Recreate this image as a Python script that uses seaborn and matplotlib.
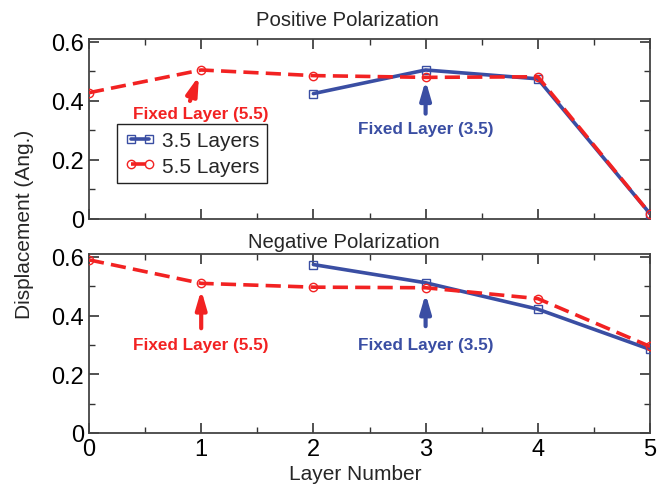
import matplotlib
matplotlib.use("Agg")
import matplotlib.pyplot as plt
import seaborn as sns
import pandas as pd
from matplotlib.ticker import MultipleLocator

sns.set_theme(style="ticks")
plt.rcParams['font.family'] = ['Liberation Sans', 'DejaVu Sans']

layers_35 = [2, 3, 4, 5]
layers_55 = [0, 1, 2, 3, 4, 5]
pos_35 = [0.425, 0.505, 0.475, 0.018]
pos_55 = [0.428, 0.505, 0.486, 0.48, 0.482, 0.018]
neg_35 = [0.574, 0.512, 0.422, 0.285]
neg_55 = [0.59, 0.51, 0.497, 0.495, 0.458, 0.295]
series_names = ["3.5 Layers", "5.5 Layers"]
panel_titles = ["Positive Polarization", "Negative Polarization"]
yticks = [0, 0.2, 0.4, 0.6]
ytick_labels = ["0", "0.2", "0.4", "0.6"]

BLUE = "#3a4ea3"
RED = "#f22222"
W, H = 669, 489

def frame(l35, v35, l55, v55):
    return pd.concat([
        pd.DataFrame({"layer": l35, "disp": v35, "series": series_names[0]}),
        pd.DataFrame({"layer": l55, "disp": v55, "series": series_names[1]}),
    ])

fig = plt.figure(figsize=(6.69, 4.89), dpi=100)
ax1 = fig.add_axes([89/W, 1-220/H, 561/W, 180/H])
ax2 = fig.add_axes([89/W, 1-434/H, 561/W, 179/H])

for ax, (v35, v55) in zip([ax1, ax2], [(pos_35, pos_55), (neg_35, neg_55)]):
    df = frame(layers_35, v35, layers_55, v55)
    sns.lineplot(data=df[df.series == series_names[0]], x="layer", y="disp", ax=ax,
                 color=BLUE, lw=2.6, marker="s", markersize=6, markerfacecolor="none",
                 markeredgecolor=BLUE, markeredgewidth=1.0, label=series_names[0], zorder=3)
    sns.lineplot(data=df[df.series == series_names[1]], x="layer", y="disp", ax=ax,
                 color=RED, lw=2.6, ls=(0, (4.2, 2.0)), marker="o", markersize=6,
                 markerfacecolor="none", markeredgecolor=RED, markeredgewidth=1.0,
                 label=series_names[1], zorder=4)
    ax.set_xlim(0, 5)
    ax.set_ylim(0, 0.61)
    ax.set_yticks(yticks)
    ax.set_yticklabels(ytick_labels)
    ax.xaxis.set_minor_locator(MultipleLocator(0.5))
    ax.yaxis.set_minor_locator(MultipleLocator(0.1))
    ax.tick_params(which="both", direction="in", top=True, right=True, color="#333333")
    ax.tick_params(which="major", length=7, width=1.2, labelsize=17, colors="#333333", labelcolor="black")
    ax.tick_params(which="minor", length=4, width=1.0, color="#333333")
    for s in ax.spines.values():
        s.set_color("#444444")
        s.set_linewidth(1.3)
    ax.set_xlabel("")
    ax.set_ylabel("")
    ax.get_legend().remove()

ax1.set_xticklabels([])
fig.text(347/W, 1-21/H, panel_titles[0], ha="center", va="center", fontsize=14.6)
fig.text(344/W, 1-243/H, panel_titles[1], ha="center", va="center", fontsize=14.6)
fig.text(355/W, 1-475/H, "Layer Number", ha="center", va="center", fontsize=15)
fig.text(25/W, 1-224/H, "Displacement (Ang.)", rotation=90, ha="center", va="center", fontsize=15)

h, l = ax1.get_legend_handles_labels()
leg = ax1.legend(h, l, loc="upper left", bbox_to_anchor=(0.05, 0.528), fontsize=15,
                 frameon=True, fancybox=False, framealpha=1, edgecolor="#222222",
                 handlelength=1.5, handletextpad=0.3, borderpad=0.35, labelspacing=0.3,
                 numpoints=2, borderaxespad=0)
leg.get_frame().set_linewidth(1.0)

akw = dict(arrowstyle="-|>,head_width=0.32,head_length=1.1", lw=3, shrinkA=0, shrinkB=0,
           mutation_scale=10)
tkw = dict(fontsize=12.3, fontweight="bold", ha="center", va="center")
ax1.annotate("", xy=(0.98, 0.485), xytext=(0.9, 0.40), arrowprops=dict(color=RED, **akw))
ax1.text(1.0, 0.357, "Fixed Layer (5.5)", color=RED, **tkw)
ax1.annotate("", xy=(3.0, 0.47), xytext=(3.0, 0.357), arrowprops=dict(color=BLUE, **akw))
ax1.text(3.0, 0.307, "Fixed Layer (3.5)", color=BLUE, **tkw)

ax2.annotate("", xy=(1.0, 0.488), xytext=(1.0, 0.357), arrowprops=dict(color=RED, **akw))
ax2.text(1.0, 0.30, "Fixed Layer (5.5)", color=RED, **tkw)
ax2.annotate("", xy=(3.0, 0.475), xytext=(3.0, 0.364), arrowprops=dict(color=BLUE, **akw))
ax2.text(3.0, 0.30, "Fixed Layer (3.5)", color=BLUE, **tkw)

fig.savefig("out.png", dpi=100)
